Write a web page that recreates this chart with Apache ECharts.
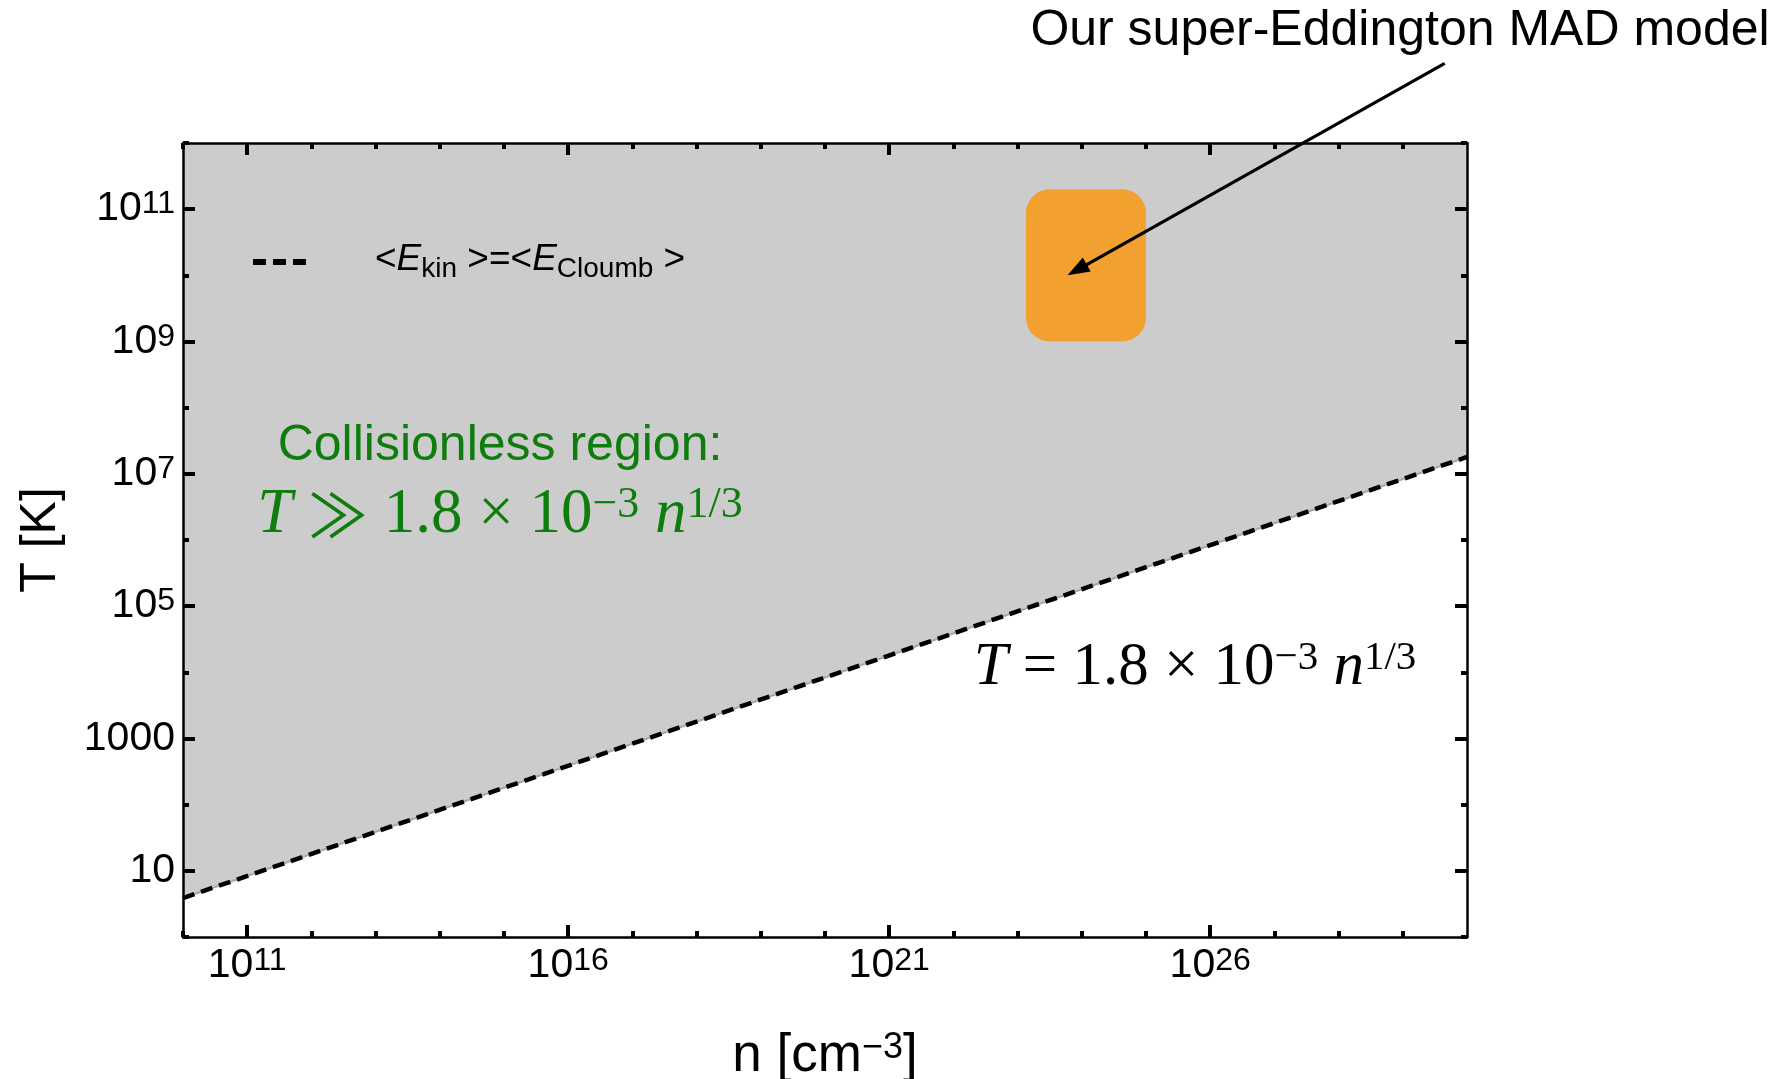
<!DOCTYPE html>
<html>
<head>
<meta charset="utf-8">
<script src="https://cdn.jsdelivr.net/npm/echarts@6/dist/echarts.min.js"></script>
<style>
  html, body { margin: 0; padding: 0; background: #ffffff; }
  #chart { width: 1791px; height: 1079px; }
</style>
</head>
<body>
<div id="chart"></div>
<script>
// Axis ranges
const densityRange = [1e10, 1e30];      // n [cm^-3]
const temperatureRange = [1, 1e12];     // T [K]

// Tick positions (major ticks carry labels)
const densityMajorTicks = [1e11, 1e16, 1e21, 1e26];
const densityMinorTicks = [1e10, 1e12, 1e13, 1e14, 1e15, 1e17, 1e18, 1e19, 1e20,
                           1e22, 1e23, 1e24, 1e25, 1e27, 1e28, 1e29, 1e30];
const temperatureMajorTicks = [1e1, 1e3, 1e5, 1e7, 1e9, 1e11];
const temperatureMinorTicks = [1e0, 1e2, 1e4, 1e6, 1e8, 1e10, 1e12];

// Boundary <E_kin> = <E_Coulomb>, i.e. T = 1.8e-3 n^(1/3)
const boundaryDensity = [1e10, 1e15, 1e20, 1e25, 1e30];
const boundaryTemperature = [3.88, 180, 8360, 3.88e5, 1.8e7];

// Super-Eddington MAD model region
const modelDensity = [1.35e23, 1e25];
const modelTemperature = [1e9, 2e11];

// Arrow from the model caption to the model region
const arrowDensity = [4.5e29, 6e23];
const arrowTemperature = [1.6e13, 1e10];

const SANS = 'Liberation Sans';
const SERIF = 'Liberation Serif';

const boundaryData = boundaryDensity.map((n, i) => [n, boundaryTemperature[i]]);

const labelRich = {
  b: { fontFamily: SANS, fontSize: 41, lineHeight: 41, verticalAlign: 'middle', color: '#000' },
  s: { fontFamily: SANS, fontSize: 32, lineHeight: 32, verticalAlign: 'top', padding: [0, 0, 28, 0], color: '#000' }
};

function powerLabel(v) {
  const k = Math.round(Math.log10(v));
  if (k === 1 || k === 3) return '{b|' + Math.round(v) + '}';
  return '{b|10}{s|' + k + '}';
}

function makeAxis(kind, position, ticks, tickLen, showLine, labels) {
  const range = kind === 'x' ? densityRange : temperatureRange;
  const ax = {
    type: 'log',
    logBase: 10,
    min: range[0],
    max: range[1],
    position: position,
    z: 10,
    axisLine: { show: showLine, onZero: false, lineStyle: { color: '#000', width: 2.5 } },
    axisTick: { show: true, inside: true, length: tickLen, customValues: ticks,
                lineStyle: { color: '#000', width: 4 } },
    axisLabel: { show: false },
    splitLine: { show: false },
    minorTick: { show: false },
    minorSplitLine: { show: false }
  };
  if (labels) {
    ax.axisLabel = { show: true, customValues: labels, margin: 8,
                     formatter: powerLabel, rich: labelRich };
  }
  return ax;
}

const xAxes = [
  makeAxis('x', 'bottom', densityMajorTicks, 12, true, densityMajorTicks),
  makeAxis('x', 'bottom', densityMinorTicks, 6, false, null),
  makeAxis('x', 'top', densityMajorTicks, 12, true, null),
  makeAxis('x', 'top', densityMinorTicks, 6, false, null)
];
xAxes[0].name = '{n|n [cm}{s|\u22123}{n|]}';
xAxes[0].nameLocation = 'middle';
xAxes[0].nameGap = 93;
xAxes[0].nameTextStyle = {
  rich: {
    n: { fontFamily: SANS, fontSize: 53, lineHeight: 53, verticalAlign: 'middle', color: '#000' },
    s: { fontFamily: SANS, fontSize: 36, lineHeight: 36, verticalAlign: 'top', padding: [0, 0, 22, 0], color: '#000' }
  }
};

const yAxes = [
  makeAxis('y', 'left', temperatureMajorTicks, 12, true, temperatureMajorTicks),
  makeAxis('y', 'left', temperatureMinorTicks, 6, false, null),
  makeAxis('y', 'right', temperatureMajorTicks, 12, true, null),
  makeAxis('y', 'right', temperatureMinorTicks, 6, false, null)
];
yAxes[0].name = 'T [K]';
yAxes[0].nameLocation = 'middle';
yAxes[0].nameGap = 117;
yAxes[0].nameTextStyle = { fontFamily: SANS, fontSize: 50, lineHeight: 50, color: '#000' };

const legendRich = {
  lt: { fontFamily: SANS, fontSize: 37, lineHeight: 42, verticalAlign: 'top', color: '#000', padding: [0, 0, 0, 64] },
  t:  { fontFamily: SANS, fontSize: 37, lineHeight: 42, verticalAlign: 'top', color: '#000' },
  e:  { fontFamily: SANS, fontSize: 37, lineHeight: 42, verticalAlign: 'top', color: '#000', fontStyle: 'italic' },
  sub:{ fontFamily: SANS, fontSize: 28, lineHeight: 28, verticalAlign: 'bottom', color: '#000', padding: [18, 0, 0, 0] }
};

const formulaRich = (size, supSize, supPad, color) => ({
  i: { fontFamily: SERIF, fontSize: size, lineHeight: size, verticalAlign: 'middle', fontStyle: 'italic', color: color },
  r: { fontFamily: SERIF, fontSize: size, lineHeight: size, verticalAlign: 'middle', color: color },
  g: { fontFamily: '"Noto Sans CJK SC"', fontSize: size * 0.95, lineHeight: size, verticalAlign: 'middle', color: color },
  s: { fontFamily: SERIF, fontSize: supSize, lineHeight: supSize, verticalAlign: 'top', padding: [0, 0, supPad, 0], color: color }
});

const GREEN = '#0e7d0e';

const chart = echarts.init(document.getElementById('chart'), null, { renderer: 'canvas' });

chart.setOption({
  animation: false,
  backgroundColor: '#ffffff',
  grid: { left: 183, top: 143, right: 324, bottom: 142, containLabel: false, outerBoundsMode: 'none' },
  xAxis: xAxes,
  yAxis: yAxes,
  legend: {
    left: 253,
    top: 237,
    padding: 0,
    itemWidth: 53,
    itemHeight: 6,
    selectedMode: false,
    data: [{ name: 'boundary', icon: 'path://M0 0h13v6h-13z M20 0h13v6h-13z M40 0h13v6h-13z' }],
    itemStyle: { color: '#000', borderWidth: 0 },
    formatter: () => '{lt|<}{e|E}{sub|kin}{t| >=<}{e|E}{sub|Cloumb}{t| >}',
    textStyle: { rich: legendRich }
  },
  series: [
    {
      // collisionless region: everything above the boundary
      type: 'line',
      name: 'region',
      data: boundaryData,
      symbol: 'none',
      silent: true,
      z: 1,
      lineStyle: { color: '#a8a8a8', width: 2 },
      areaStyle: { color: '#cccccc', opacity: 1, origin: 'end' }
    },
    {
      type: 'custom',
      name: 'model',
      z: 2,
      silent: true,
      data: [[modelDensity[0], modelTemperature[0], modelDensity[1], modelTemperature[1]]],
      encode: { x: [0, 2], y: [1, 3] },
      renderItem: (params, api) => {
        const a = api.coord([api.value(0), api.value(1)]);
        const b = api.coord([api.value(2), api.value(3)]);
        return {
          type: 'rect',
          shape: { x: a[0], y: b[1], width: b[0] - a[0], height: a[1] - b[1], r: 24 },
          style: { fill: '#f2a030' }
        };
      }
    },
    {
      type: 'line',
      name: 'boundary',
      data: boundaryData,
      symbol: 'none',
      silent: true,
      z: 3,
      color: '#000',
      itemStyle: { color: '#000' },
      lineStyle: { color: '#000', width: 4.5, type: [12, 7] }
    },
    {
      type: 'custom',
      name: 'arrow',
      z: 5,
      silent: true,
      clip: false,
      data: [[arrowDensity[0], arrowTemperature[0], arrowDensity[1], arrowTemperature[1]]],
      encode: { x: [0, 2], y: [1, 3] },
      renderItem: (params, api) => {
        const p0 = api.coord([api.value(0), api.value(1)]);
        const p1 = api.coord([api.value(2), api.value(3)]);
        const dx = p1[0] - p0[0], dy = p1[1] - p0[1];
        const L = Math.hypot(dx, dy);
        const ux = dx / L, uy = dy / L;
        const headLen = 22, headHalf = 8;
        const bx = p1[0] - ux * headLen, by = p1[1] - uy * headLen;
        return {
          type: 'group',
          children: [
            { type: 'line', shape: { x1: p0[0], y1: p0[1], x2: bx + ux * 3, y2: by + uy * 3 },
              style: { stroke: '#000', lineWidth: 3.2 } },
            { type: 'polygon',
              shape: { points: [[p1[0], p1[1]],
                                [bx - uy * headHalf, by + ux * headHalf],
                                [bx + uy * headHalf, by - ux * headHalf]] },
              style: { fill: '#000' } }
          ]
        };
      }
    }
  ],
  graphic: [
    {
      type: 'text', x: 1400, y: 31, z: 100,
      style: { text: 'Our super-Eddington MAD model', fontFamily: SANS, fontSize: 50,
               fill: '#000', align: 'center', verticalAlign: 'middle' }
    },
    {
      type: 'text', x: 500, y: 446, z: 100,
      style: { text: 'Collisionless region:', fontFamily: SANS, fontSize: 50,
               fill: GREEN, align: 'center', verticalAlign: 'middle' }
    },
    {
      type: 'text', x: 500, y: 515, z: 100,
      style: { text: '{i|T}{r| }{g|\u226B}{r| 1.8 \u00D7 10}{s|\u22123}{i| n}{s|1/3}',
               rich: formulaRich(63, 44, 33, GREEN),
               fill: GREEN, align: 'center', verticalAlign: 'middle' }
    },
    {
      type: 'text', x: 1195, y: 668, z: 100,
      style: { text: '{i|T}{r| = 1.8 \u00D7 10}{s|\u22123}{i| n}{s|1/3}',
               rich: formulaRich(61, 41, 20, '#000'),
               fill: '#000', align: 'center', verticalAlign: 'middle' }
    }
  ]
});
</script>
</body>
</html>
